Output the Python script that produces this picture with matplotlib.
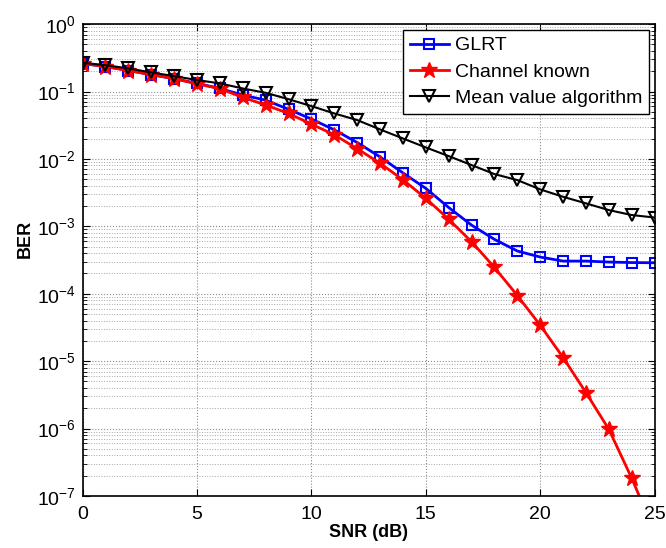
import numpy as np
import matplotlib
matplotlib.use("Agg")
import matplotlib.pyplot as plt
from matplotlib.ticker import FixedLocator, LogLocator, NullFormatter

plt.rcParams["font.family"] = ["Liberation Sans", "DejaVu Sans"]
plt.rcParams["mathtext.fontset"] = "custom"
plt.rcParams["mathtext.rm"] = "Liberation Sans"
plt.rcParams["mathtext.default"] = "regular"

snr = np.arange(0, 26)

ber_glrt = [0.26, 0.235, 0.205, 0.178, 0.155, 0.132, 0.111, 0.0885, 0.0745, 0.0545,
            0.039, 0.027, 0.0175, 0.0107, 0.0062, 0.00365, 0.0019, 0.00104, 0.00064,
            0.00043, 0.00035, 0.000305, 0.000305, 0.000295, 0.00029, 0.000288]

ber_known = [0.26, 0.235, 0.205, 0.178, 0.155, 0.13, 0.11, 0.082, 0.063, 0.0473,
             0.0328, 0.0228, 0.0142, 0.0086, 0.0049, 0.0026, 0.00127, 0.00059, 0.000245,
             9.4e-5, 3.4e-5, 1.13e-5, 3.4e-6, 9.7e-7, 1.82e-7, 2.9e-8]

ber_mean = [0.267, 0.246, 0.22, 0.192, 0.169, 0.148, 0.132, 0.111, 0.0957, 0.077,
            0.0607, 0.0473, 0.0377, 0.0274, 0.0201, 0.0148, 0.011, 0.0081, 0.00595,
            0.00485, 0.00353, 0.00274, 0.00219, 0.00174, 0.00147, 0.00135]

x_ticks = [0, 5, 10, 15, 20, 25]
y_decades = [1e-7, 1e-6, 1e-5, 1e-4, 1e-3, 1e-2, 1e-1, 1e0]

fig = plt.figure(figsize=(6.66, 5.48), dpi=100)
ax = fig.add_axes([0.124, 0.095, 0.859, 0.861])

ax.semilogy(snr, ber_glrt, "-s", color="blue", lw=2, ms=7, mfc="none", mew=1.5,
            label="GLRT")
ax.semilogy(snr, ber_known, "-*", color="red", lw=2, ms=12, mfc="red", mew=1,
            label="Channel known")
ax.semilogy(snr, ber_mean, "-v", color="black", lw=1.5, ms=9, mfc="none", mew=1.5,
            label="Mean value algorithm")

ax.set_xlim(0, 25)
ax.set_ylim(1e-7, 1)
ax.set_xticks(x_ticks)
ax.yaxis.set_major_locator(FixedLocator(y_decades))
ax.yaxis.set_minor_locator(LogLocator(base=10, subs=np.arange(2, 10), numticks=100))
ax.yaxis.set_minor_formatter(NullFormatter())

ax.grid(True, which="major", axis="both", linestyle=":", color="0.55", lw=0.8)
ax.grid(True, which="minor", axis="y", linestyle=":", color="0.65", lw=0.7)

ax.tick_params(which="both", direction="in", top=True, right=True, labelsize=14)
ax.tick_params(axis="x", which="major", pad=7)
ax.tick_params(axis="y", which="major", pad=5)
ax.tick_params(which="major", length=5, width=0.8)
ax.tick_params(which="minor", length=3, width=0.6)
for s in ax.spines.values():
    s.set_linewidth(1.2)

ax.set_xlabel("SNR (dB)", fontsize=13, fontweight="bold", labelpad=1)
ax.set_ylabel("BER", fontsize=13, fontweight="bold", labelpad=3)
ax.yaxis.set_label_coords(-0.085, 0.545)

leg = ax.legend(loc="upper right", fontsize=14, fancybox=False, framealpha=1,
                edgecolor="black", borderaxespad=0.3, handlelength=2.0,
                borderpad=0.35, labelspacing=0.45, handletextpad=0.3)
leg.get_frame().set_linewidth(1)

fig.savefig("out.png", dpi=100)
